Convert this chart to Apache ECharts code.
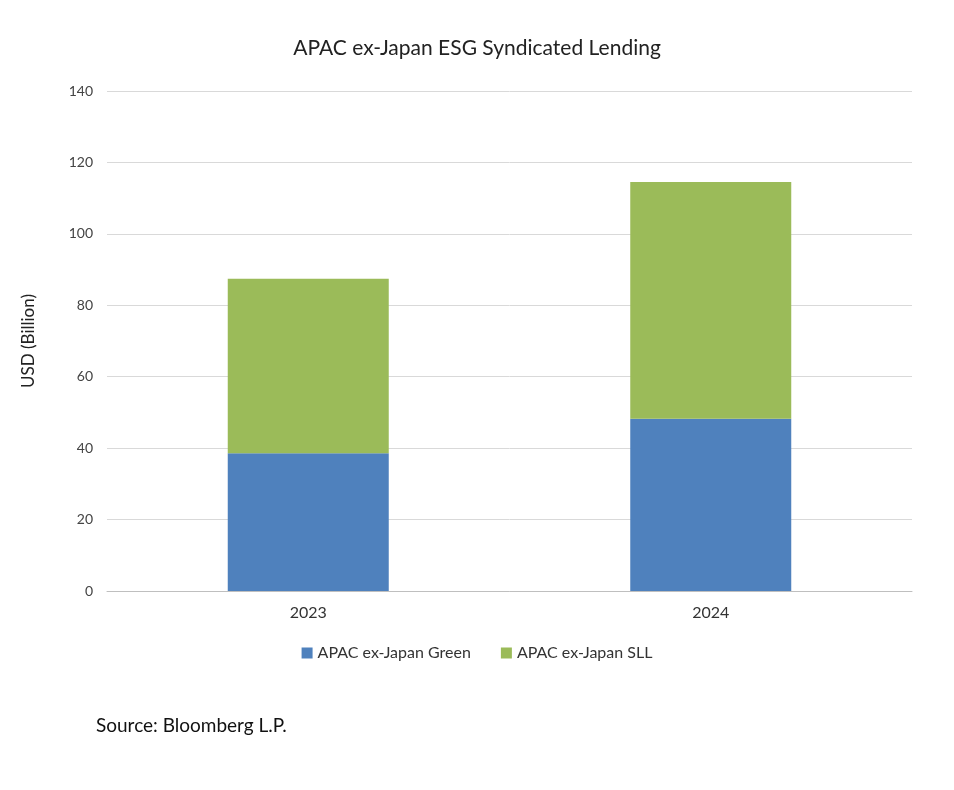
<!DOCTYPE html>
<html><head><meta charset="utf-8">
<script src="https://cdn.jsdelivr.net/npm/echarts@6/dist/echarts.min.js"></script>
<style>html,body{margin:0;padding:0;background:#fff}#c{width:954px;height:790px}</style>
</head><body><div id="c"></div>
<script>
const categories = ['2023', '2024'];
const greenValues = [38.6, 48.2];
const sllValues = [48.8, 66.3];
const yTicks = [0, 20, 40, 60, 80, 100, 120, 140];

const chart = echarts.init(document.getElementById('c'));
const font = 'Lato, "Open Sans", sans-serif';
chart.setOption({
  animation: false,
  textStyle: { fontFamily: font },
  title: [
    { text: 'APAC ex-Japan ESG Syndicated Lending', left: 'center', top: 33,
      textStyle: { fontSize: 21, fontWeight: 'normal', color: '#222', fontFamily: font } },
    { text: 'Source: Bloomberg L.P.', left: 91, top: 711,
      textStyle: { fontSize: 19, fontWeight: 'normal', color: '#111', fontFamily: font } }
  ],
  grid: { left: 107, right: 42, top: 91, bottom: 199 },
  legend: {
    bottom: 124, left: 'center', itemWidth: 11, itemHeight: 11, itemGap: 30,
    textStyle: { fontSize: 16, color: '#333', fontFamily: font },
    data: [{ name: 'APAC ex-Japan Green', icon: 'rect' }, { name: 'APAC ex-Japan SLL', icon: 'rect' }]
  },
  xAxis: {
    type: 'category', data: categories,
    axisLine: { lineStyle: { color: '#bfbfbf' } }, axisTick: { show: false },
    axisLabel: { fontSize: 16, color: '#333', margin: 14 }
  },
  yAxis: {
    type: 'value', min: yTicks[0], max: yTicks[yTicks.length - 1], interval: 20,
    name: 'USD (Billion)', nameLocation: 'middle', nameGap: 70,
    nameTextStyle: { fontSize: 17, color: '#222' },
    axisLabel: { fontSize: 14, color: '#444', margin: 14 },
    axisLine: { show: false }, axisTick: { show: false },
    splitLine: { lineStyle: { color: '#d9d9d9' } }
  },
  series: [
    { name: 'APAC ex-Japan Green', type: 'bar', stack: 's', data: greenValues, barWidth: '40%',
      itemStyle: { color: '#4f81bd' } },
    { name: 'APAC ex-Japan SLL', type: 'bar', stack: 's', data: sllValues, barWidth: '40%',
      itemStyle: { color: '#9bbb59' } }
  ]
});
</script></body></html>
